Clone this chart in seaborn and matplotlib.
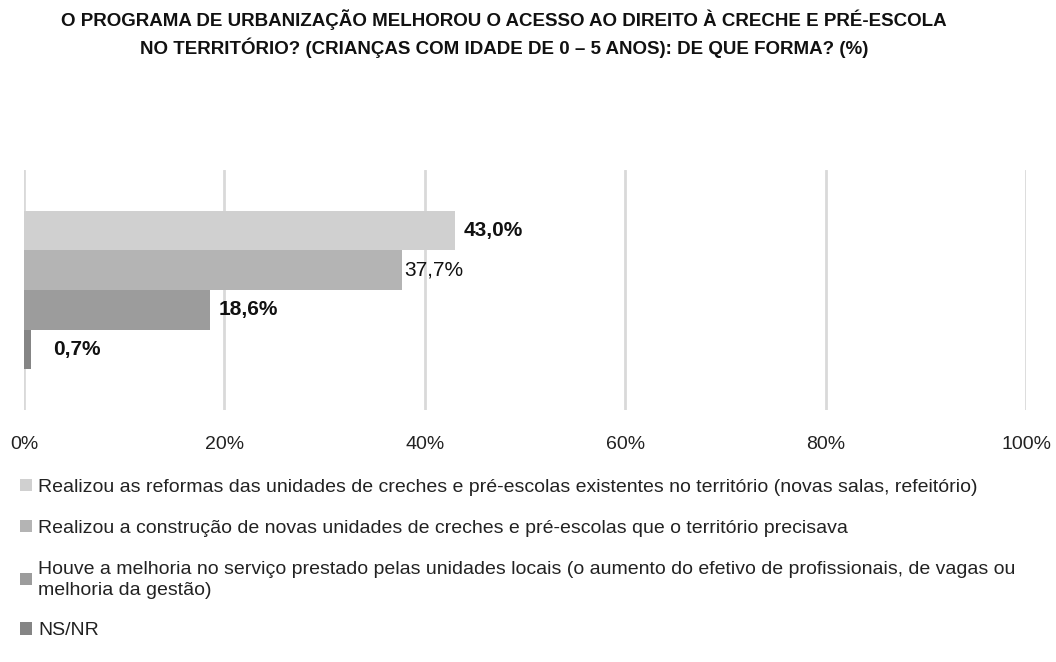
import matplotlib
matplotlib.use("Agg")
import matplotlib.pyplot as plt
import seaborn as sns
import pandas as pd
from matplotlib.patches import Patch

title = ("O PROGRAMA DE URBANIZAÇÃO MELHOROU O ACESSO AO DIREITO À CRECHE E PRÉ-ESCOLA\n"
         "NO TERRITÓRIO? (CRIANÇAS COM IDADE DE 0 – 5 ANOS): DE QUE FORMA? (%)")
series = [
    "Realizou as reformas das unidades de creches e pré-escolas existentes no território (novas salas, refeitório)",
    "Realizou a construção de novas unidades de creches e pré-escolas que o território precisava",
    "Houve a melhoria no serviço prestado pelas unidades locais (o aumento do efetivo de profissionais, de vagas ou\nmelhoria da gestão)",
    "NS/NR",
]
values = [43.0, 37.7, 18.6, 0.7]
label_bold = [True, False, True, True]
colors = ["#d0d0d0", "#b4b4b4", "#9c9c9c", "#858585"]
ticks = [0, 20, 40, 60, 80, 100]

sns.set_theme(style="white")
FONT = ["Liberation Sans", "DejaVu Sans"]
plt.rcParams["font.family"] = FONT

df = pd.DataFrame({"cat": ["q"] * len(values), "serie": series, "valor": values})

fig = plt.figure(figsize=(10.56, 6.62), dpi=100)
ax = fig.add_axes([0.0227, 0.3807, 0.9489, 0.3625])

sns.barplot(data=df, x="valor", y="cat", hue="serie", hue_order=series,
            palette=colors, width=0.66, orient="h", ax=ax, legend=False,
            saturation=1, linewidth=0)

ax.set_xlim(0, 100)
ax.set_ylim(0.5, -0.5)
ax.set_xticks(ticks)
ax.set_xticklabels([f"{t}%" for t in ticks], fontsize=14, color="#222222")
ax.tick_params(axis="x", length=0, pad=19)
ax.set_yticks([])
ax.set_xlabel("")
ax.set_ylabel("")
for s in ax.spines.values():
    s.set_visible(False)
ax.grid(axis="x", color="#d9d9d9", linewidth=2)
ax.set_axisbelow(True)

pads = [6, 2, 6, 16]
for cont, v, b, p in zip(ax.containers, values, label_bold, pads):
    ax.bar_label(cont, labels=[f"{v:.1f}%".replace(".", ",")], padding=p,
                 fontsize=15, fontweight="bold" if b else "normal", color="#111111")

fig.text(0.477, 0.986, title, ha="center", va="top", fontsize=13.5,
         fontweight="bold", linespacing=1.45, color="#111111")

handles = [Patch(facecolor=c, edgecolor="none") for c in colors]
leg = fig.legend(handles, series, loc="upper left", bbox_to_anchor=(0.012, 0.288),
                 frameon=False, fontsize=14, handlelength=0.6, handleheight=0.6,
                 handletextpad=0.3, labelspacing=1.22, borderaxespad=0)
for t in leg.get_texts():
    t.set_color("#222222")
    t.set_linespacing(1.3)

fig.savefig("out.png", dpi=100)
